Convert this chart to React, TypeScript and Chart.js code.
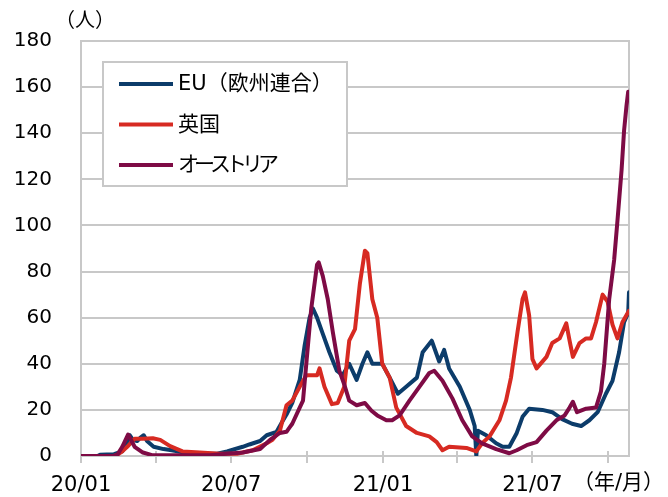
import React, { useEffect, useRef } from "react";
import { Chart, registerables } from "chart.js";

Chart.register(...registerables);

// ---- data (x = days since 2020-01-01, y = persons) ----
const euDays = [0, 20, 23, 40, 50, 55, 59, 63, 68, 72, 76, 80, 88, 100, 110, 125, 145, 165, 177, 196, 204, 217, 225, 237, 244, 249, 256, 265, 271, 277, 281, 286, 293, 301, 310, 317, 325, 334, 341, 347, 353, 365, 374, 384, 394, 407, 414, 425, 434, 440, 446, 459, 471, 477, 479, 481, 491, 503, 511, 519, 528, 535, 543, 559, 571, 583, 595, 606, 616, 626, 636, 644, 652, 658, 663, 664];
const euValues = [0, 0, 0.5, 0.8, 2, 5, 9, 7, 6.5, 8, 9, 6.5, 4, 3, 2.5, 1.5, 1, 1, 2, 4, 5, 6.5, 9, 10.5, 15, 18, 23, 33, 48, 60, 64, 60, 53, 45, 37, 35, 40, 33, 40, 45, 40, 40, 34, 27, 30, 34, 45, 50, 41, 46, 38, 30, 20, 13, 0, 11, 9, 5.5, 4, 4, 10, 17, 20.5, 20, 19, 16, 14, 13, 15.5, 19, 27, 32.6, 45, 58, 62, 71];

const ukDays = [0, 40, 44, 50, 56, 65, 75, 87, 96, 108, 123, 144, 168, 189, 208, 225, 232, 241, 249, 256, 265, 273, 286, 289, 295, 304, 311, 319, 325, 332, 338, 344, 347, 353, 359, 365, 374, 382, 394, 407, 422, 431, 438, 446, 467, 479, 486, 495, 507, 515, 521, 529, 535, 538, 543, 547, 552, 564, 571, 580, 588, 592, 596, 604, 612, 618, 624, 632, 638, 644, 650, 656, 664];
const ukValues = [0, 0, 0.5, 2, 4, 7.5, 7.5, 7.7, 7, 4.3, 2, 1.5, 1, 1, 2.5, 5.5, 7, 11, 22, 24, 30, 35, 35, 38, 30, 22.5, 23, 30, 50, 55, 75, 89, 88, 68, 60, 40, 34, 21, 13, 10, 8.5, 6, 2.5, 4, 3.5, 2, 5.5, 8.5, 15.5, 24, 34, 54, 68, 71, 61, 42, 38, 43, 49, 51, 57.5, 50, 43, 49, 51, 51, 58, 70, 67, 57, 51, 58, 63];

const atDays = [0, 39, 44, 50, 57, 65, 75, 87, 156, 177, 196, 217, 229, 241, 249, 253, 256, 265, 269, 273, 279, 286, 288, 293, 299, 305, 313, 319, 325, 334, 344, 352, 359, 370, 377, 386, 398, 410, 422, 428, 438, 450, 462, 474, 486, 503, 519, 528, 540, 552, 564, 576, 586, 592, 596, 601, 612, 624, 630, 634, 640, 646, 650, 655, 658, 661, 663];
const atValues = [0, 0, 0.5, 4, 9.3, 4, 1.5, 0.3, 0.3, 1, 1.5, 3, 7, 10, 10.5, 12.5, 14, 21, 24, 40, 64, 83, 84, 78, 68, 54, 37, 31, 24, 22, 23, 19.6, 17.6, 15.5, 15.5, 17.6, 24, 30, 36, 37, 32.6, 25, 15.5, 8.5, 5.5, 3, 1.2, 2.5, 4.7, 6, 11, 15.5, 17.6, 21, 23.5, 19, 20.5, 21, 28, 40, 68, 85, 102, 124, 141, 152, 158];

const seriesNames = ["EU（欧州連合）", "英国", "オーストリア"];
const seriesColors = ["#0c3c6a", "#d72a22", "#7e0b45"];
const legendLetterSpacing = ["0px", "0px", "-5px"];

const tickDays = [0, 91, 182, 274, 366, 456, 547, 639];
const tickLabels = ["20/01", "", "20/07", "", "21/01", "", "21/07", ""];
const xMaxDay = 664;
const yTicks = [0, 20, 40, 60, 80, 100, 120, 140, 160, 180];
const yUnit = "（人）";
const xUnit = "（年/月）";

const FONT = "'DejaVu Sans', 'Noto Sans CJK JP', sans-serif";
const GRID = "#c8c8c8";

const toPoints = (days: number[], vals: number[]) => days.map((d, i) => ({ x: d, y: vals[i] }));

const decorPlugin = {
  id: "decor",
  beforeDatasetsDraw(chart: any) {
    const { ctx, chartArea: a, scales } = chart;
    ctx.save();
    ctx.strokeStyle = GRID;
    ctx.lineWidth = 2;
    ctx.strokeRect(a.left, a.top, a.right - a.left, a.bottom - a.top);
    tickDays.forEach((d) => {
      const x = Math.round(scales.x.getPixelForValue(d));
      ctx.beginPath();
      ctx.moveTo(x, a.bottom - 5);
      ctx.lineTo(x, a.bottom + 7);
      ctx.stroke();
    });
    ctx.restore();
  },
  afterDatasetsDraw(chart: any) {
    const { ctx, chartArea: a } = chart;
    ctx.save();
    // legend box
    const bx = a.left + 22, by = a.top + 21, bw = 244, bh = 124;
    ctx.fillStyle = "#ffffff";
    ctx.fillRect(bx, by, bw, bh);
    ctx.strokeStyle = GRID;
    ctx.lineWidth = 2;
    ctx.strokeRect(bx, by, bw, bh);
    ctx.font = `21px ${FONT}`;
    ctx.textBaseline = "middle";
    ctx.textAlign = "left";
    chart.data.datasets.forEach((ds: any, i: number) => {
      const y = by + 22 + i * 40.5;
      ctx.strokeStyle = ds.borderColor;
      ctx.lineWidth = 4;
      ctx.beginPath();
      ctx.moveTo(bx + 16, y);
      ctx.lineTo(bx + 70, y);
      ctx.stroke();
      ctx.fillStyle = "#000";
      (ctx as any).letterSpacing = legendLetterSpacing[i];
      ctx.fillText(ds.label, bx + 75, y + 1);
    });
    (ctx as any).letterSpacing = "0px";
    // unit labels
    ctx.font = `20px ${FONT}`;
    ctx.textAlign = "center";
    ctx.fillText(yUnit, a.left + 4, 22);
    ctx.textAlign = "left";
    ctx.font = `21px ${FONT}`;
    ctx.fillText(xUnit, a.right - 56, 484);
    ctx.restore();
  },
};

export default function App() {
  const ref = useRef<HTMLCanvasElement | null>(null);
  useEffect(() => {
    if (!ref.current) return;
    const datasets = [
      { label: seriesNames[0], data: toPoints(euDays, euValues), borderColor: seriesColors[0], order: 2 },
      { label: seriesNames[1], data: toPoints(ukDays, ukValues), borderColor: seriesColors[1], order: 1 },
      { label: seriesNames[2], data: toPoints(atDays, atValues), borderColor: seriesColors[2], order: 0 },
    ].map((d) => ({ ...d, borderWidth: 4, pointRadius: 0, tension: 0, fill: false, borderJoinStyle: "round" as const, borderCapStyle: "round" as const }));
    const chart = new Chart(ref.current, {
      type: "line",
      data: { datasets },
      plugins: [decorPlugin],
      options: {
        animation: false,
        responsive: true,
        maintainAspectRatio: false,
        layout: { padding: { left: 0, right: 39, top: 36, bottom: 0 } },
        plugins: { legend: { display: false }, tooltip: { enabled: false } },
        scales: {
          x: {
            type: "linear",
            min: 0,
            max: xMaxDay,
            afterBuildTicks: (s: any) => {
              s.ticks = tickDays.map((v) => ({ value: v }));
            },
            afterFit: (s: any) => {
              s.height = 41;
            },
            ticks: {
              autoSkip: false,
              maxRotation: 0,
              padding: 17,
              color: "#000",
              font: { family: FONT, size: 21 },
              callback: (_v: any, i: number) => tickLabels[i],
            },
            grid: { display: false, drawTicks: false },
            border: { display: false },
          },
          y: {
            min: 0,
            max: 180,
            afterBuildTicks: (s: any) => {
              s.ticks = yTicks.map((v) => ({ value: v }));
            },
            afterFit: (s: any) => {
              s.width = 81;
            },
            ticks: { padding: 29, color: "#000", font: { family: FONT, size: 20 } },
            grid: { color: GRID, lineWidth: 2, drawTicks: false },
            border: { display: false },
          },
        },
      },
    });
    return () => chart.destroy();
  }, []);
  return (
    <div style={{ position: "fixed", left: 0, top: 0, width: 668, height: 497, background: "#fff" }}>
      <canvas ref={ref} />
    </div>
  );
}
